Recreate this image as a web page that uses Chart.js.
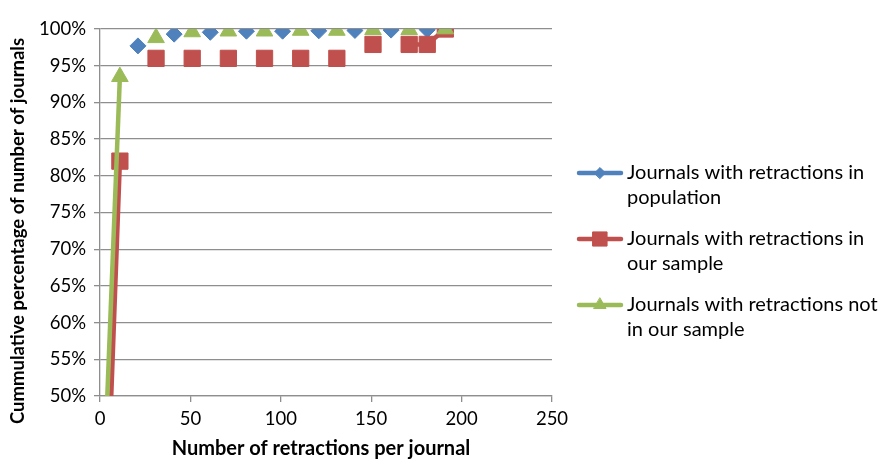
<!DOCTYPE html>
<html>
<head>
<meta charset="utf-8">
<script src="https://cdn.jsdelivr.net/npm/chart.js@4/dist/chart.umd.min.js"></script>
<style>
  html, body { margin: 0; padding: 0; background: #fff; }
  #wrap { width: 887px; height: 463px; }
</style>
</head>
<body>
<div id="wrap"><canvas id="chart" width="887" height="463"></canvas></div>
<script>
// ===== DATA =====
const retractions = [1, 11, 21, 31, 41, 51, 61, 71, 81, 91, 101, 111, 121, 131, 141, 151, 161, 171, 181, 191];
const population = [null, null, 97.7, null, 99.3, null, 99.55, null, 99.7, null, 99.7, null, 99.75, null, 99.8, null, 99.85, null, 99.9, null];
const ourSample = [15, 82, null, 96, null, 96, null, 96, null, 96, null, 96, null, 96, null, 97.9, null, 97.9, 97.9, 100];
const notInSample = [31, 93.5, null, 98.8, null, 99.6, null, 99.7, null, 99.7, null, 99.8, null, 99.8, null, 99.9, null, 99.9, null, 100];
const xTicks = [0, 50, 100, 150, 200, 250];
const yTicks = [50, 55, 60, 65, 70, 75, 80, 85, 90, 95, 100];
const seriesNames = [
  ["Journals with retractions in", "population"],
  ["Journals with retractions in", "our sample"],
  ["Journals with retractions not", "in our sample"],
];
const xTitle = "Number of retractions per journal";
const yTitle = "Cummulative percentage of number of journals";

// ===== STYLE =====
const FONT = "Lato, 'Liberation Sans', sans-serif";
const GRID = "#8e8e8e";
const colors = ["#4f81bd", "#c0504d", "#9bbb59"];
const markers = [
  { style: "rectRot", radius: 8, legendRadius: 5.5 },
  { style: "rect", radius: 11.5, legendRadius: 10 },
  { style: "triangle", radius: 9.6, legendRadius: 7 },
];

const pts = (ys) => retractions.map((x, i) => ({ x, y: ys[i] }));

const makeSet = (i, ys, order) => ({
  label: seriesNames[i].join(" "),
  data: pts(ys),
  showLine: true,
  spanGaps: false,
  borderColor: colors[i],
  backgroundColor: colors[i],
  borderWidth: 4.5,
  pointStyle: markers[i].style,
  pointRadius: markers[i].radius,
  pointHoverRadius: markers[i].radius,
  pointBorderWidth: 1,
  pointBorderColor: colors[i],
  pointBackgroundColor: colors[i],
  order,
});

// axis titles + right-hand legend
const extras = {
  id: "extras",
  afterDraw(chart) {
    const ctx = chart.ctx;
    ctx.save();
    ctx.fillStyle = "#000";
    ctx.textAlign = "center";
    ctx.textBaseline = "middle";
    ctx.font = "bold 20px " + FONT;
    ctx.fillText(xTitle, 321, 449);
    ctx.translate(18, 231);
    ctx.rotate(-Math.PI / 2);
    ctx.font = "bold 18.5px " + FONT;
    ctx.fillText(yTitle, 0, 0);
    ctx.restore();

    const rows = [173, 239, 305];
    rows.forEach((y, i) => {
      ctx.save();
      ctx.strokeStyle = colors[i];
      ctx.lineWidth = 4.5;
      ctx.lineCap = "round";
      ctx.beginPath();
      ctx.moveTo(579, y);
      ctx.lineTo(621, y);
      ctx.stroke();
      ctx.fillStyle = colors[i];
      ctx.lineWidth = 1;
      Chart.helpers.drawPoint(ctx, { pointStyle: markers[i].style, radius: markers[i].legendRadius, rotation: 0, borderWidth: 1 }, 600, y);
      ctx.fillStyle = "#000";
      ctx.font = "20px " + FONT;
      ctx.textAlign = "left";
      ctx.textBaseline = "middle";
      ctx.fillText(seriesNames[i][0], 627, y);
      ctx.fillText(seriesNames[i][1], 627, y + 25);
      ctx.restore();
    });
  },
};

new Chart(document.getElementById("chart"), {
  type: "scatter",
  data: {
    datasets: [makeSet(0, population, 3), makeSet(1, ourSample, 2), makeSet(2, notInSample, 1)],
  },
  options: {
    responsive: false,
    animation: false,
    layout: { padding: { left: 0, top: 29, right: 335, bottom: 0 } },
    plugins: { legend: { display: false }, tooltip: { enabled: false } },
    scales: {
      x: {
        type: "linear",
        min: 0,
        max: 250,
        afterBuildTicks: (s) => { s.ticks = xTicks.map((v) => ({ value: v })); },
        afterFit: (s) => { s.height = 67; },
        grid: { display: true, drawOnChartArea: false, drawTicks: true, tickLength: 6, color: GRID, lineWidth: 1.3 },
        border: { display: true, color: GRID, width: 1.3 },
        ticks: { color: "#000", font: { family: FONT, size: 18.5 }, padding: 6, maxRotation: 0 },
      },
      y: {
        type: "linear",
        min: 50,
        max: 100,
        afterBuildTicks: (s) => { s.ticks = yTicks.map((v) => ({ value: v })); },
        afterFit: (s) => { s.width = 100; },
        grid: { display: true, drawTicks: true, tickLength: 6, color: GRID, lineWidth: 1.3 },
        border: { display: true, color: GRID, width: 1.3 },
        ticks: { color: "#000", font: { family: FONT, size: 18.5 }, padding: 8, callback: (v) => v + "%" },
      },
    },
  },
  plugins: [extras],
});
</script>
</body>
</html>
